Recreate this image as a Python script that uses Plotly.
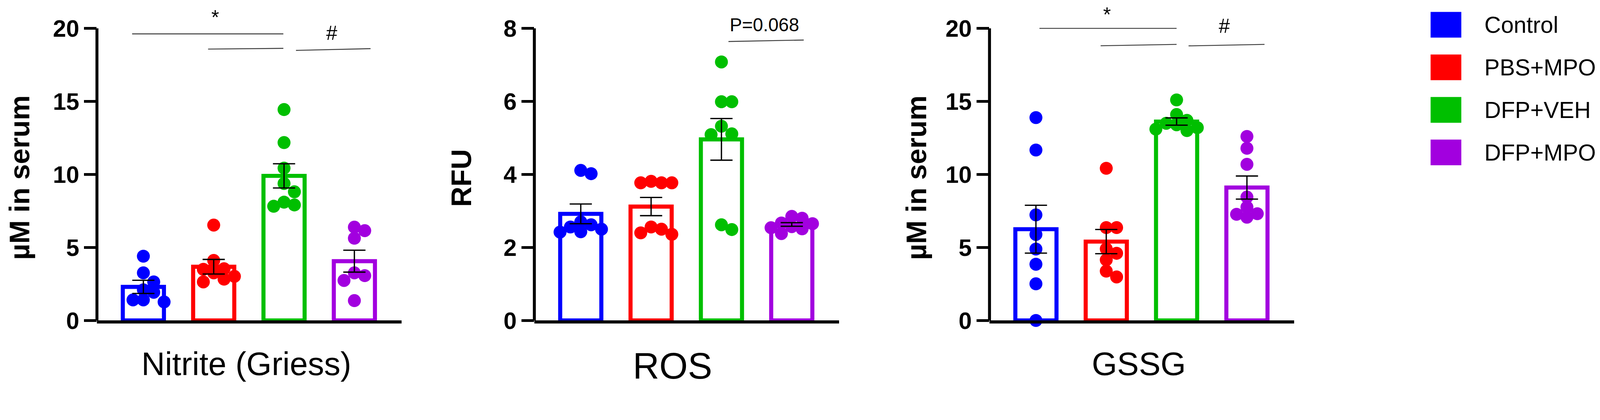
"""Nitrite / ROS / GSSG bar + scatter panels (mean +/- SEM) with a shared group legend."""
import math
import plotly.graph_objects as go

groups = ["Control", "PBS+MPO", "DFP+VEH", "DFP+MPO"]
colors = ["#0000FF", "#FF0000", "#00BF00", "#A200DF"]

# individual animals
nitrite_pts = [
    [4.40, 3.26, 2.64, 2.10, 1.93, 1.27, 1.41, 1.41],
    [6.53, 4.11, 3.54, 3.50, 3.26, 3.02, 2.83, 2.64],
    [14.44, 12.18, 10.43, 9.38, 8.81, 8.10, 7.91, 7.82],
    [6.39, 6.15, 5.63, 3.26, 3.07, 2.74, 1.36],
]
ros_pts = [
    [4.11, 4.02, 2.70, 2.62, 2.56, 2.50, 2.43, 2.42],
    [3.81, 3.77, 3.77, 3.77, 2.56, 2.50, 2.40, 2.36],
    [7.08, 5.99, 5.99, 5.32, 5.11, 5.09, 2.62, 2.49],
    [2.85, 2.80, 2.67, 2.65, 2.57, 2.54, 2.51, 2.38],
]
gssg_pts = [
    [13.89, 11.67, 7.23, 5.89, 4.89, 3.85, 2.51, 0.0],
    [10.42, 6.36, 6.36, 4.90, 4.60, 4.15, 3.38, 2.98],
    [15.10, 14.10, 13.70, 13.50, 13.40, 13.20, 13.10, 13.00],
    [12.60, 11.79, 10.69, 8.45, 7.76, 7.31, 7.27, 7.07],
]

# bar heights and SEM as drawn
nitrite_mean = [2.30, 3.68, 9.90, 4.06]
nitrite_sem = [0.45, 0.50, 0.83, 0.75]
ros_mean = [2.92, 3.12, 4.96, 2.63]
ros_sem = [0.27, 0.25, 0.57, 0.05]
gssg_mean = [6.25, 5.40, 13.62, 9.10]
gssg_sem = [1.64, 0.83, 0.25, 0.79]

panel_titles = ["Nitrite (Griess)", "ROS", "GSSG"]
y_titles = ["µM in serum", "RFU", "µM in serum"]
y_ticks = [[0, 5, 10, 15, 20], [0, 2, 4, 6, 8], [0, 5, 10, 15, 20]]

# significance bars: (panel, x0, x1, y0, y1) in category / data units
brackets = [
    (0, -0.16, 1.99, 19.62, 19.62),
    (0, 0.92, 1.99, 18.58, 18.63),
    (0, 2.17, 3.23, 18.49, 18.61),
    (1, 2.10, 3.17, 7.64, 7.68),
    (2, 0.05, 2.00, 20.00, 20.00),
    (2, 0.92, 2.00, 18.81, 18.90),
    (2, 2.17, 3.25, 18.80, 18.90),
]
marks = [
    (0, 1.02, 20.75, "*"),
    (0, 2.68, 19.67, "#"),
    (1, 2.61, 8.10, "P=0.068"),
    (2, 1.01, 20.95, "*"),
    (2, 2.68, 20.15, "#"),
]

# geometry is measured on the 4328x1075 reference; the page only shows
# about 4100 css px across (plus the 8px body margin), so scale by S
REF_W, REF_H = 4328, 1075
VIEW_W = 4100
S = VIEW_W / REF_W
M = 8
W = round(REF_W * S - M)
H = round(REF_H * S - 2 * M)


def z(v):
    return v * S


def fx(p):
    return (p * S - M) / W


def fy(p):
    return 1 - (p * S - M) / H


FONT = "Liberation Sans, Arial, sans-serif"
X_PX = [262, 1444, 2674]       # left edge of each plot area (reference px)
X_LEN = 823
X_RANGE = [-0.66, 3.67]
CAT_PX = X_LEN / (X_RANGE[1] - X_RANGE[0])
Y_BOTTOM = 896                 # reference px where y = 0
Y_TOPTICK = 79                 # reference px of the highest tick
Y_MAX = [20, 8, 20]
Y_DOM_TOP = M / S              # reference px of the figure's top edge
TITLE_X = [666, 1817, 3078]    # centres of the panel names (reference px)


def swarm(vals, ppu, step=28.0, gap=27.0):
    """Greedy dot placement: push a dot sideways until it stops overlapping."""
    placed = []
    offs = [0.0] * len(vals)
    for i in sorted(range(len(vals)), key=lambda k: -vals[k]):
        y = vals[i] * ppu
        k = 0
        while True:
            dx = ((k + 1) // 2) * (1 if k % 2 else -1) * step
            if all(math.hypot(dx - px, y - py) >= gap for px, py in placed):
                break
            k += 1
        placed.append((dx, y))
        offs[i] = dx / CAT_PX
    return offs


fig = go.Figure()
panels = [
    (nitrite_pts, nitrite_mean, nitrite_sem),
    (ros_pts, ros_mean, ros_sem),
    (gssg_pts, gssg_mean, gssg_sem),
]
for p, (pts, mean, sem) in enumerate(panels):
    xa = "x" if p == 0 else f"x{p + 1}"
    ya = "y" if p == 0 else f"y{p + 1}"
    ppu = (Y_BOTTOM - Y_TOPTICK) / Y_MAX[p]
    fig.add_trace(go.Bar(
        x=list(range(len(groups))), y=mean, width=0.585,
        marker=dict(color="white", line=dict(color=colors, width=z(11))),
        xaxis=xa, yaxis=ya, showlegend=False,
    ))
    for g, vals in enumerate(pts):
        offs = swarm(vals, ppu)
        fig.add_trace(go.Scatter(
            x=[g + o for o in offs], y=vals, mode="markers",
            marker=dict(color=colors[g], size=z(35), line=dict(width=0)),
            cliponaxis=False, xaxis=xa, yaxis=ya, showlegend=False,
        ))
    fig.add_trace(go.Scatter(
        x=list(range(len(groups))), y=mean, mode="markers",
        marker=dict(color="rgba(0,0,0,0)", size=2),
        error_y=dict(type="data", array=sem, visible=True, color="black",
                     thickness=z(3.5), width=z(30)),
        xaxis=xa, yaxis=ya, showlegend=False,
    ))

layout = dict(
    width=W, height=H, margin=dict(l=0, r=0, t=0, b=0),
    paper_bgcolor="white", plot_bgcolor="white",
    font=dict(family=FONT, color="black"), showlegend=False,
)
shapes, annotations = [], []
ydom = [fy(Y_BOTTOM), 1.0]
for p in range(3):
    sfx = "" if p == 0 else str(p + 1)
    ppu = (Y_BOTTOM - Y_TOPTICK) / Y_MAX[p]
    layout[f"xaxis{sfx}"] = dict(
        domain=[fx(X_PX[p]), fx(X_PX[p] + X_LEN)], range=X_RANGE,
        anchor=f"y{sfx}", showline=True, linecolor="black", linewidth=z(8),
        showticklabels=False, ticks="", showgrid=False, zeroline=False,
    )
    layout[f"yaxis{sfx}"] = dict(
        domain=ydom, range=[0, (Y_BOTTOM - Y_DOM_TOP) / ppu], anchor=f"x{sfx}",
        tickvals=y_ticks[p], ticks="outside", ticklen=z(34), tickwidth=z(7),
        tickcolor="black", showline=False, showgrid=False, zeroline=False,
        tickfont=dict(size=z(64), family=FONT, weight="bold", color="black"),
    )
    # y axis line only up to the top tick
    shapes.append(dict(type="line", xref=f"x{sfx} domain", yref=f"y{sfx}",
                       x0=0, x1=0, y0=0, y1=Y_MAX[p],
                       line=dict(color="black", width=z(8)), layer="above"))
    annotations.append(dict(
        text=panel_titles[p], xref="paper", yref="paper", x=fx(TITLE_X[p]),
        y=fy(1023 if p == 1 else 1017), xanchor="center", yanchor="middle",
        showarrow=False, font=dict(size=z(99 if p == 1 else 88), family=FONT),
    ))
    annotations.append(dict(
        text=y_titles[p], xref="paper", yref="paper",
        x=fx([53, 1247, 2477][p]), y=fy(497), xanchor="center",
        yanchor="middle", textangle=-90, showarrow=False,
        font=dict(size=z(76), family=FONT, weight="bold"),
    ))

for p, x0, x1, y0, y1 in brackets:
    sfx = "" if p == 0 else str(p + 1)
    shapes.append(dict(type="line", xref=f"x{sfx}", yref=f"y{sfx}",
                       x0=x0, x1=x1, y0=y0, y1=y1,
                       line=dict(color="#3a3a3a", width=z(2.5))))
for p, x, y, txt in marks:
    sfx = "" if p == 0 else str(p + 1)
    annotations.append(dict(
        text=txt, xref=f"x{sfx}", yref=f"y{sfx}", x=x, y=y,
        xanchor="center", yanchor="middle", showarrow=False,
        font=dict(size=z(50 if txt.startswith("P") else 54), family=FONT),
    ))

# legend drawn by hand so the swatches can be as large as in the figure
for g, name in enumerate(groups):
    top = 33 + g * 119
    shapes.append(dict(type="rect", xref="paper", yref="paper",
                       x0=fx(3866), x1=fx(3949),
                       y0=fy(top + 72), y1=fy(top),
                       fillcolor=colors[g], line=dict(width=0)))
    annotations.append(dict(
        text=name, xref="paper", yref="paper", x=fx(4009),
        y=fy(top + 36), xanchor="left", yanchor="middle",
        showarrow=False, font=dict(size=z(62), family=FONT),
    ))

layout["shapes"] = shapes
layout["annotations"] = annotations
fig.update_layout(**layout)
fig.write_html("out.html")
